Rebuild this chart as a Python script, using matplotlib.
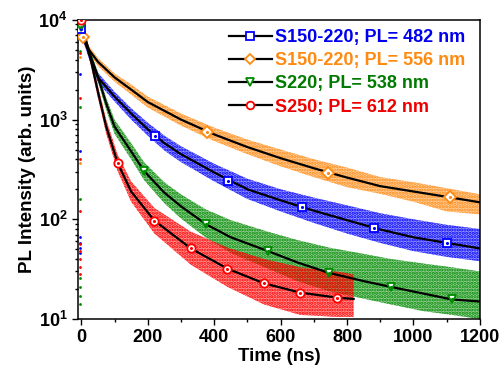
import numpy as np
import matplotlib
matplotlib.use('Agg')
import matplotlib.pyplot as plt
from matplotlib.ticker import FuncFormatter, MultipleLocator, LogLocator
from matplotlib.lines import Line2D

plt.rcParams['font.family'] = ['Liberation Sans', 'DejaVu Sans']
plt.rcParams['font.weight'] = 'bold'
plt.rcParams['mathtext.fontset'] = 'custom'
plt.rcParams['mathtext.bf'] = 'Liberation Sans:bold'
plt.rcParams['mathtext.rm'] = 'Liberation Sans:bold'
plt.rcParams['hatch.linewidth'] = 1.6

# series names / colours
labels = ['S150-220; PL= 482 nm', 'S150-220; PL= 556 nm',
          'S220; PL= 538 nm', 'S250; PL= 612 nm']
colors = ['#0000FF', '#FF8A12', '#008A00', '#FF0000']
text_colors = ['#0000EE', '#FF8A12', '#007A00', '#EE0000']
markers = ['s', 'D', 'v', 'o']

# blue  (482 nm): fit line and spread of the measured points
t_blue = [0, 25, 50, 100, 150, 200, 250, 300, 400, 500, 600, 700, 800, 900, 1000, 1100, 1200]
fit_blue = [8000, 4400, 2650, 1700, 1150, 800, 580, 450, 295, 200, 155, 122, 98, 79, 66, 58, 51]
lo_blue = [7000, 3900, 2350, 1520, 1000, 690, 490, 375, 240, 160, 120, 92, 72, 58, 48, 42, 38]
hi_blue = [9000, 4900, 2950, 1900, 1300, 930, 690, 540, 360, 255, 200, 165, 138, 115, 100, 88, 80]
mk_t_blue = [0, 222, 443, 665, 882, 1100]
mk_v_blue = [8000, 683, 241, 132, 81, 58]

# orange (556 nm)
t_orange = [0, 25, 50, 100, 150, 200, 300, 400, 500, 600, 700, 800, 900, 1000, 1100, 1200]
fit_orange = [7000, 4900, 3800, 2650, 2000, 1500, 1000, 710, 530, 410, 325, 262, 215, 190, 168, 148]
lo_orange = [6300, 4450, 3450, 2400, 1780, 1320, 870, 610, 450, 340, 265, 210, 180, 150, 120, 112]
hi_orange = [7700, 5350, 4150, 2900, 2250, 1700, 1150, 830, 630, 500, 400, 330, 265, 235, 205, 178]
mk_t_orange = [5, 379, 743, 1110]
mk_v_orange = [6700, 748, 290, 166]

# green (538 nm)
t_green = [0, 25, 50, 75, 100, 150, 190, 250, 300, 376, 450, 562, 650, 746, 850, 932, 1030, 1116, 1200]
fit_green = [8500, 4600, 2700, 1450, 850, 480, 302, 185, 135, 89, 66, 48, 37, 29, 24, 21, 18, 15.7, 15]
lo_green = [7500, 4100, 2400, 1250, 720, 400, 245, 145, 102, 65, 46, 32, 24, 19, 16, 14, 12, 11, 10]
hi_green = [9500, 5100, 3000, 1650, 1000, 580, 370, 235, 178, 125, 98, 75, 62, 52, 45, 40, 36, 33, 30]
mk_t_green = [0, 190, 376, 562, 746, 932, 1116]
mk_v_green = [8500, 302, 89, 48, 29, 21, 15.7]

# red (612 nm)
t_red = [0, 25, 50, 75, 110, 150, 220, 330, 440, 550, 659, 769, 820]
fit_red = [9500, 4500, 1900, 850, 364, 190, 97, 51, 32, 22.8, 18.4, 16.4, 15.9]
lo_red = [8500, 4000, 1650, 720, 300, 150, 72, 35, 21, 14, 11, 10.5, 10.5]
hi_red = [10500, 5000, 2200, 1000, 440, 240, 130, 75, 52, 40, 33, 30, 28]
mk_t_red = [0, 110, 220, 330, 440, 550, 659, 769]
mk_v_red = [10000, 364, 97, 51, 32, 22.8, 18.4, 16.4]

# stray points recorded just before the pulse
pre_blue = [2860, 482, 66, 58, 52, 46]
pre_orange = [4250, 365]
pre_green = [4870, 1340, 158, 26, 21, 17, 14]
pre_red = [4650, 1650, 400, 120, 57, 48, 40, 33, 28]

series = [
    (t_blue, fit_blue, lo_blue, hi_blue, mk_t_blue, mk_v_blue, pre_blue),
    (t_orange, fit_orange, lo_orange, hi_orange, mk_t_orange, mk_v_orange, pre_orange),
    (t_green, fit_green, lo_green, hi_green, mk_t_green, mk_v_green, pre_green),
    (t_red, fit_red, lo_red, hi_red, mk_t_red, mk_v_red, pre_red),
]

fig = plt.figure(figsize=(5.03, 3.74), dpi=100)
ax = fig.add_axes([0.155, 0.147, 0.799, 0.8])

draw_order = [1, 0, 2, 3]
for k in draw_order:
    t, fit, lo, hi, mt, mv, pre = series[k]
    rgb = matplotlib.colors.to_rgb(colors[k])
    ax.fill_between(t, lo, hi, facecolor=rgb + (0.4,), edgecolor=colors[k],
                    hatch='.....', linewidth=0, zorder=1)
    ax.scatter([-3] * len(pre), pre, s=4, color=colors[k], linewidths=0, zorder=2)

for k in draw_order:
    t, fit, lo, hi, mt, mv, pre = series[k]
    ax.plot(t, fit, color='k', lw=1.6, zorder=3)
    ax.plot(mt, mv, ls='none', marker=markers[k], ms=6, mfc='white',
            mec=colors[k], mew=1.3, zorder=4)
    ax.plot(mt, mv, ls='none', marker='.', ms=2.5, color=colors[k], zorder=5)

ax.set_yscale('log')
ax.set_xlim(-10, 1200)
ax.set_ylim(10, 10000)
ax.xaxis.set_major_locator(MultipleLocator(200))
ax.xaxis.set_minor_locator(MultipleLocator(100))
ax.yaxis.set_major_locator(LogLocator(base=10))
ax.yaxis.set_minor_locator(LogLocator(base=10, subs=np.arange(2, 10)))
ax.yaxis.set_major_formatter(FuncFormatter(lambda v, p: r'$\mathbf{10^{%d}}$' % round(np.log10(v))))
ax.yaxis.set_minor_formatter(FuncFormatter(lambda v, p: ''))
ax.tick_params(which='both', direction='out', labelsize=13, width=1)
ax.tick_params(which='major', length=4)
ax.tick_params(which='minor', length=2.5)
for s in ax.spines.values():
    s.set_linewidth(1.1)

ax.set_xlabel('Time (ns)', fontsize=13.5, fontweight='bold', labelpad=1)
ax.set_ylabel('PL Intensity (arb. units)', fontsize=13.5, fontweight='bold', labelpad=2)

handles = [Line2D([0], [0], color='k', lw=1.6, marker=markers[k], ms=5.5, mfc='white',
                  mec=colors[k], mew=1.3) for k in range(4)]
leg = ax.legend(handles, labels, loc='upper right', frameon=False,
                handlelength=2.4, handletextpad=0.15, labelspacing=0.35,
                borderaxespad=0.2, borderpad=0.3, prop={'weight': 'bold', 'size': 13},
                bbox_to_anchor=(0.985, 1.0))
for txt, c in zip(leg.get_texts(), text_colors):
    txt.set_color(c)

fig.savefig('out.png', dpi=100)
